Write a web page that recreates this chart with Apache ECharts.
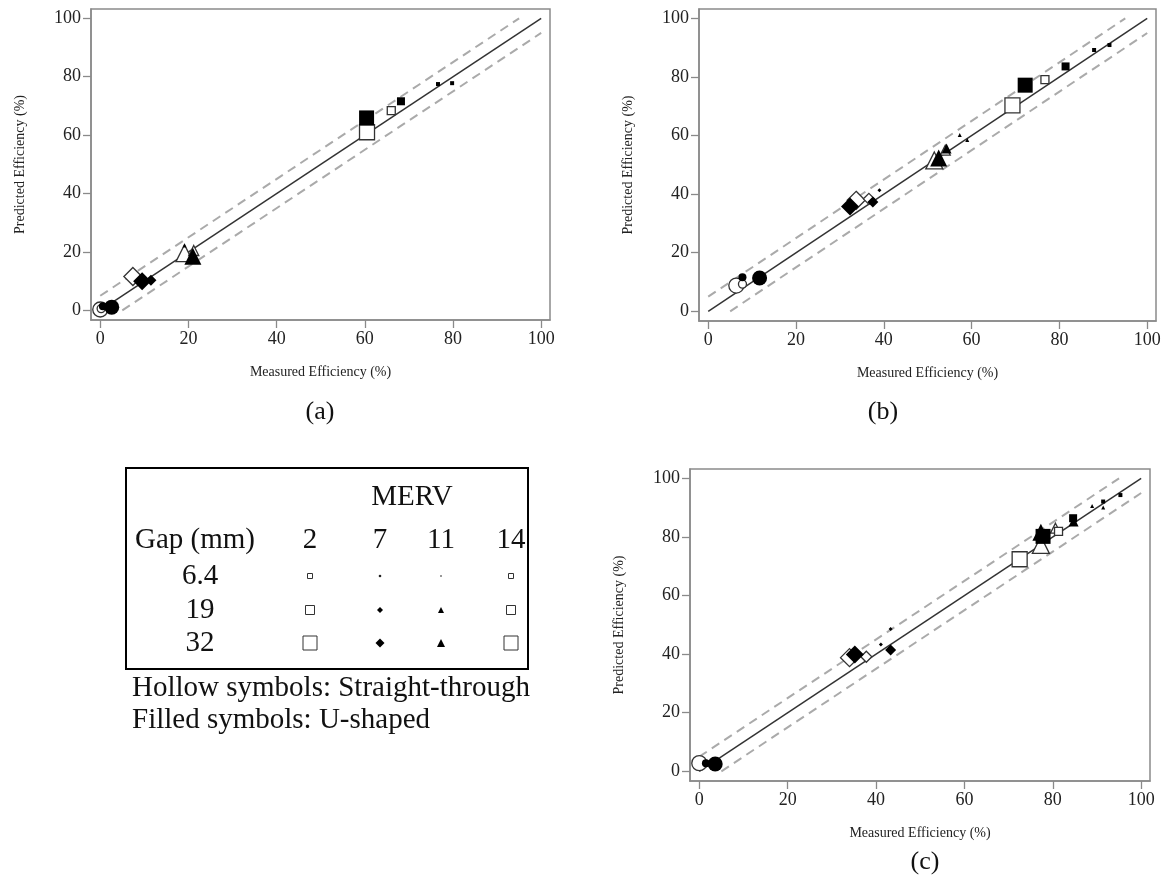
<!DOCTYPE html>
<html>
<head>
<meta charset="utf-8">
<script src="https://cdn.jsdelivr.net/npm/echarts@6/dist/echarts.min.js"></script>
<style>
  html, body { margin: 0; background: #fff; }
  #chart { width: 1168px; height: 890px; }
</style>
</head>
<body>
<div id="chart"></div>
<script>
// each point: [measured %, predicted %, MERV, gap (mm)]
const panelAStraight = [
  [0, 0.3, 2, 32], [0.2, 0.6, 2, 19],
  [7.4, 11.6, 7, 32],
  [19.1, 19.6, 11, 32], [21.2, 20.5, 11, 19],
  [60.5, 61, 14, 32], [66, 68.4, 14, 19]
]
const panelAUShaped = [
  [2.6, 1.1, 2, 32], [0.6, 1.4, 2, 19],
  [9.5, 10, 7, 32], [11.5, 10.3, 7, 19],
  [21, 18.5, 11, 32], [19.1, 22.2, 11, 6.4],
  [60.4, 65.9, 14, 32], [68.2, 71.6, 14, 19],
  [76.6, 77.5, 14, 6.4], [79.8, 77.8, 14, 6.4]
]
const panelBStraight = [
  [6.4, 8.8, 2, 32], [7.8, 9.3, 2, 19],
  [33.7, 37.9, 7, 32], [36.6, 38.4, 7, 19],
  [51.5, 51.5, 11, 32], [54, 55, 11, 19],
  [69.3, 70.3, 14, 32], [76.7, 79.1, 14, 19]
]
const panelBUShaped = [
  [11.7, 11.4, 2, 32], [7.8, 11.6, 2, 19],
  [32.3, 35.8, 7, 32], [37.5, 37.3, 7, 19], [39, 41.3, 7, 6.4],
  [52.5, 52.3, 11, 32], [54.3, 55.6, 11, 19], [57.3, 60.2, 11, 6.4], [59, 58.5, 11, 6.4],
  [72.2, 77.2, 14, 32], [81.4, 83.6, 14, 19], [87.9, 89.2, 14, 6.4], [91.4, 90.9, 14, 6.4]
]
const panelCStraight = [
  [0, 2.8, 2, 32],
  [34, 38.8, 7, 32], [37.8, 39.1, 7, 19],
  [77.3, 77.3, 11, 32], [80.6, 83, 11, 19],
  [72.5, 72.4, 14, 32], [81.3, 81.9, 14, 19]
]
const panelCUShaped = [
  [3.6, 2.5, 2, 32], [1.5, 2.8, 2, 19],
  [35.2, 39.9, 7, 32], [43.3, 41.4, 7, 19], [41.1, 43.3, 7, 6.4], [43.3, 48.6, 7, 6.4],
  [77.3, 81.6, 11, 32], [84.7, 85.3, 11, 19], [88.9, 90.6, 11, 6.4], [91.4, 90.1, 11, 6.4],
  [77.8, 80.2, 14, 32], [84.6, 86.4, 14, 19], [91.4, 92.1, 14, 6.4], [95.3, 94.3, 14, 6.4]
]

const tickValues = [0, 20, 40, 60, 80, 100]
const identityLine = [[0, 0], [100, 100]]
const upperBand = [[0, 5], [95, 100]]
const lowerBand = [[5, 0], [100, 95]]

const mervLabels = ['2', '7', '11', '14']
const gapLabels = ['6.4', '19', '32']
const panelLabels = ['(a)', '(b)', '(c)']

const serif = '"Liberation Serif", "DejaVu Serif", serif'
const frameColor = '#8a8a8a'

const shapeOf = { 2: 'circle', 7: 'diamond', 11: 'triangle', 14: 'rect' }
function sizeOf(merv, gap) {
  const base = gap >= 30 ? 15 : gap >= 15 ? 8 : 4
  if (merv === 7 && gap >= 15) return base + 3
  if (merv === 11 && gap >= 15) return base + 2
  return base
}

const grids = [
  { left: 91, top: 9, width: 459, height: 311 },
  { left: 699, top: 9, width: 457, height: 312 },
  { left: 690, top: 469, width: 460, height: 312 }
]
const panels = [
  [panelAStraight, panelAUShaped],
  [panelBStraight, panelBUShaped],
  [panelCStraight, panelCUShaped]
]

const chart = echarts.init(document.getElementById('chart'))

const xAxes = []
const yAxes = []
const series = []
grids.forEach((g, i) => {
  xAxes.push({
    gridIndex: i,
    type: 'value',
    min: -2.1,
    max: 102,
    axisLine: { show: true, onZero: false, lineStyle: { color: frameColor, width: 1.5 } },
    axisTick: { show: true, customValues: tickValues, length: 8, lineStyle: { color: frameColor, width: 1.3 } },
    axisLabel: { customValues: tickValues, fontFamily: serif, fontSize: 18, color: '#222', margin: 10 },
    splitLine: { show: false },
    name: 'Measured Efficiency (%)',
    nameLocation: 'middle',
    nameGap: 45,
    nameTextStyle: { fontFamily: serif, fontSize: 14, color: '#222' }
  })
  yAxes.push({
    gridIndex: i,
    type: 'value',
    min: -3.3,
    max: 103.2,
    axisLine: { show: true, onZero: false, lineStyle: { color: frameColor, width: 1.5 } },
    axisTick: { show: true, customValues: tickValues, length: 8, lineStyle: { color: frameColor, width: 1.3 } },
    axisLabel: { customValues: tickValues, fontFamily: serif, fontSize: 18, color: '#222', margin: 10 },
    splitLine: { show: false },
    name: 'Predicted Efficiency (%)',
    nameLocation: 'middle',
    nameGap: 64,
    nameTextStyle: { fontFamily: serif, fontSize: 14, color: '#222' }
  })

  const lineBase = { type: 'line', xAxisIndex: i, yAxisIndex: i, symbol: 'none', silent: true, z: 1 }
  series.push({ ...lineBase, data: upperBand, lineStyle: { color: '#aaa', width: 2, type: [9, 6] } })
  series.push({ ...lineBase, data: lowerBand, lineStyle: { color: '#aaa', width: 2, type: [9, 6] } })
  series.push({ ...lineBase, data: identityLine, lineStyle: { color: '#333', width: 1.5 } })

  const [straight, uShaped] = panels[i]
  series.push({
    type: 'scatter', xAxisIndex: i, yAxisIndex: i, z: 3,
    data: straight,
    symbol: v => shapeOf[v[2]],
    symbolSize: v => sizeOf(v[2], v[3]),
    itemStyle: { color: '#fff', borderColor: '#333', borderWidth: 1.3, opacity: 1 }
  })
  series.push({
    type: 'scatter', xAxisIndex: i, yAxisIndex: i, z: 4,
    data: uShaped,
    symbol: v => shapeOf[v[2]],
    symbolSize: v => sizeOf(v[2], v[3]),
    itemStyle: { color: '#000', opacity: 1 }
  })
})

// legend table (drawn as graphics)
const legendFont = '29px ' + serif
const colX = [310, 380, 441, 511]
const rowY = [576, 610, 643]
const graphic = [
  { type: 'rect', shape: { x: 126, y: 468, width: 402, height: 201 }, style: { fill: 'none', stroke: '#000', lineWidth: 2 } },
  { type: 'text', x: 412, y: 497, style: { text: 'MERV', font: legendFont, fill: '#111', align: 'center', verticalAlign: 'middle' } },
  { type: 'text', x: 135, y: 540, style: { text: 'Gap (mm)', font: legendFont, fill: '#111', align: 'left', verticalAlign: 'middle' } },
  { type: 'text', x: 132, y: 688, style: { text: 'Hollow symbols: Straight-through', font: legendFont, fill: '#111', align: 'left', verticalAlign: 'middle' } },
  { type: 'text', x: 132, y: 720, style: { text: 'Filled symbols: U-shaped', font: legendFont, fill: '#111', align: 'left', verticalAlign: 'middle' } }
]
mervLabels.forEach((m, j) => {
  graphic.push({ type: 'text', x: colX[j], y: 540, style: { text: m, font: legendFont, fill: '#111', align: 'center', verticalAlign: 'middle' } })
})
gapLabels.forEach((g, r) => {
  graphic.push({ type: 'text', x: 200, y: rowY[r], style: { text: g, font: legendFont, fill: '#111', align: 'center', verticalAlign: 'middle' } })
})
function hollowSquare(cx, cy, s) {
  return { type: 'rect', shape: { x: cx - s / 2, y: cy - s / 2, width: s, height: s }, style: { fill: '#fff', stroke: '#333', lineWidth: 1 } }
}
function filledDiamond(cx, cy, s) {
  return { type: 'polygon', shape: { points: [[cx, cy - s / 2], [cx + s / 2, cy], [cx, cy + s / 2], [cx - s / 2, cy]] }, style: { fill: '#000' } }
}
function filledTriangle(cx, cy, s) {
  return { type: 'polygon', shape: { points: [[cx, cy - s / 2], [cx + s / 2, cy + s / 2], [cx - s / 2, cy + s / 2]] }, style: { fill: '#000' } }
}
function dot(cx, cy, r, c) {
  return { type: 'circle', shape: { cx: cx, cy: cy, r: r }, style: { fill: c } }
}
graphic.push(hollowSquare(colX[0], rowY[0], 5), dot(colX[1], rowY[0], 1.3, '#222'), dot(colX[2], rowY[0], 1, '#777'), hollowSquare(colX[3], rowY[0], 5))
graphic.push(hollowSquare(colX[0], rowY[1], 9), filledDiamond(colX[1], rowY[1], 6), filledTriangle(colX[2], rowY[1], 6), hollowSquare(colX[3], rowY[1], 9))
graphic.push(hollowSquare(colX[0], rowY[2], 14), filledDiamond(colX[1], rowY[2], 9), filledTriangle(colX[2], rowY[2], 8), hollowSquare(colX[3], rowY[2], 14))

// panel captions
const captionPos = [[320, 412], [883, 412], [925, 862]]
panelLabels.forEach((t, i) => {
  graphic.push({ type: 'text', x: captionPos[i][0], y: captionPos[i][1], style: { text: t, font: '26px ' + serif, fill: '#111', align: 'center', verticalAlign: 'middle' } })
})

chart.setOption({
  animation: false,
  backgroundColor: '#fff',
  grid: grids.map(g => ({ ...g, show: true, borderColor: frameColor, borderWidth: 1.5, backgroundColor: 'transparent' })),
  xAxis: xAxes,
  yAxis: yAxes,
  series: series,
  graphic: graphic
})
</script>
</body>
</html>
